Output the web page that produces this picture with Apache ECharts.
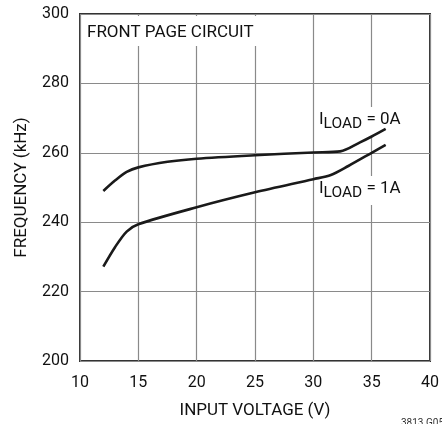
<!DOCTYPE html>
<html>
<head>
<meta charset="utf-8">
<script src="https://cdn.jsdelivr.net/npm/echarts@6/dist/echarts.min.js"></script>
<style>
html,body{margin:0;padding:0;background:#fff;}
#chart{width:442px;height:424px;}
</style>
</head>
<body>
<div id="chart"></div>
<script>
// Data
const xTicks = [10, 15, 20, 25, 30, 35, 40];
const yTicks = [200, 220, 240, 260, 280, 300];
const load0AVoltage = [12, 13, 14, 15, 17.5, 20, 25, 30, 32.3, 34, 35, 36.2];
const load0AFreq    = [249, 252, 254.5, 255.8, 257.4, 258.3, 259.3, 260.1, 260.4, 263, 264.7, 266.9];
const load1AVoltage = [12, 13, 14, 15, 20, 25, 30, 31.5, 33, 35, 36.2];
const load1AFreq    = [227.2, 232.8, 237.3, 239.4, 244.3, 248.6, 252.4, 253.6, 256.2, 260, 262.3];
const seriesNames = ['ILOAD = 0A', 'ILOAD = 1A'];
const chartTitle = 'FRONT PAGE CIRCUIT';
const xAxisTitle = 'INPUT VOLTAGE (V)';
const yAxisTitle = 'FREQUENCY (kHz)';
const figureCode = '3813 G05';

const pairs = (xs, ys) => xs.map((x, i) => [x, ys[i]]);
const FONT = "Roboto, 'Liberation Sans', sans-serif";
const TXT = '#111';

const chart = echarts.init(document.getElementById('chart'), null, {renderer: 'canvas'});

function subLabel(suffix) {
  return {
    text: '{a|I}{b|LOAD}{a| = ' + suffix + '}',
    rich: {
      a: {fontFamily: FONT, fontSize: 17, fill: TXT, color: TXT, verticalAlign: 'top'},
      b: {fontFamily: FONT, fontSize: 15.5, fill: TXT, color: TXT, verticalAlign: 'top', padding: [5,0,0,0]}
    },
    backgroundColor: '#fff',
    padding: [4, 3, 4, 3],
    verticalAlign: 'top',
    align: 'left'
  };
}

chart.setOption({
  animation: false,
  backgroundColor: '#fff',
  grid: {left: 80, right: 10, top: 14, bottom: 59, show: true, borderColor: '#333', borderWidth: 2, backgroundColor: 'transparent'},
  xAxis: {
    type: 'value', min: xTicks[0], max: xTicks[xTicks.length - 1], interval: 5,
    name: xAxisTitle, nameLocation: 'middle', nameGap: 41,
    nameTextStyle: {fontFamily: FONT, fontSize: 17, color: TXT},
    axisLine: {show: false}, axisTick: {show: false},
    axisLabel: {fontFamily: FONT, fontSize: 16, color: TXT, margin: 14},
    splitLine: {show: true, lineStyle: {color: '#8a8a8a', width: 1.2}}
  },
  yAxis: {
    type: 'value', min: yTicks[0], max: yTicks[yTicks.length - 1], interval: 20,
    name: yAxisTitle, nameLocation: 'middle', nameGap: 50, nameRotate: 90,
    nameTextStyle: {fontFamily: FONT, fontSize: 17, color: TXT},
    axisLine: {show: false}, axisTick: {show: false},
    axisLabel: {fontFamily: FONT, fontSize: 16, color: TXT, margin: 11},
    splitLine: {show: true, lineStyle: {color: '#8a8a8a', width: 1.2}}
  },
  graphic: [
    {type: 'text', left: 82, top: 16, z: 1,
     style: {text: chartTitle, font: '17px ' + FONT, fill: TXT, backgroundColor: '#fff', padding: [8, 4, 5, 5]}},
    {type: 'text', x: 316, y: 107, z: 1, style: subLabel('0A')},
    {type: 'text', x: 316, y: 176, z: 1, style: subLabel('1A')},
    {type: 'text', x: 401, y: 418, z: 1,
     style: {text: figureCode, font: '10px ' + FONT, fill: '#333'}}
  ],
  series: [
    {name: seriesNames[0], type: 'line', data: pairs(load0AVoltage, load0AFreq), showSymbol: false, symbol: 'none',
     smooth: 0.3, z: 5, lineStyle: {color: '#1a1a1a', width: 2.6}},
    {name: seriesNames[1], type: 'line', data: pairs(load1AVoltage, load1AFreq), showSymbol: false, symbol: 'none',
     smooth: 0.3, z: 5, lineStyle: {color: '#1a1a1a', width: 2.6}}
  ]
});
</script>
</body>
</html>
